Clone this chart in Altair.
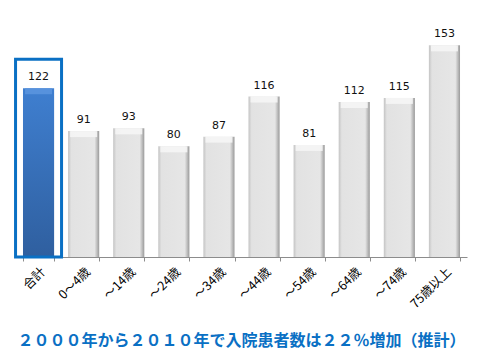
import altair as alt
import pandas as pd

categories = ["合計", "0～4歳", "～14歳", "～24歳", "～34歳", "～44歳", "～54歳", "～64歳", "～74歳", "75歳以上"]
values = [122, 91, 93, 80, 87, 116, 81, 112, 115, 153]
highlight = "合計"
highlight_top = 143
title_text = "２０００年から２０１０年で入院患者数は２２％増加（推計）"

df = pd.DataFrame({"cat": categories, "val": values})
df["hl"] = df["cat"] == highlight

x = alt.X("cat:N", sort=categories, title=None,
          scale=alt.Scale(paddingInner=0.31, paddingOuter=0.155),
          axis=alt.Axis(labelAngle=-45, labelFont="Noto Sans CJK JP", labelFontSize=12.5,
                        labelColor="#000", domainColor="#8c8c8c", tickColor="#8c8c8c",
                        tickSize=4, tickBand="extent", labelPadding=4))
y = alt.Y("val:Q", scale=alt.Scale(domain=[0, 178]), axis=None, title=None)

gray_grad = alt.Gradient(gradient="linear", x1=0, x2=1, y1=0, y2=0,
                         stops=[alt.GradientStop(color="#c4c4c4", offset=0),
                                alt.GradientStop(color="#e2e2e2", offset=0.1),
                                alt.GradientStop(color="#e6e6e6", offset=0.85),
                                alt.GradientStop(color="#9a9a9a", offset=1)])
blue_grad = alt.Gradient(gradient="linear", x1=0, x2=0, y1=0, y2=1,
                         stops=[alt.GradientStop(color="#3f7fd0", offset=0),
                                alt.GradientStop(color="#2f5f9f", offset=1)])

base = alt.Chart(df)

gray = base.transform_filter("!datum.hl").mark_bar(fill=gray_grad).encode(x=x, y=y)
blue = base.transform_filter("datum.hl").mark_bar(fill=blue_grad).encode(x=x, y=y)

cap = base.mark_tick(thickness=6, yOffset=3, size=27, opacity=0.9).encode(
    x=x, y=y,
    color=alt.condition("datum.hl", alt.value("#5a95de"), alt.value("#f5f5f5")))

labels = base.mark_text(dy=-11, font="DejaVu Sans", fontSize=11, color="#111").encode(
    x=x, y=y, text="val:Q")

frame = base.transform_filter("datum.hl").mark_bar(
    fill=None, stroke="#0a70c4", strokeWidth=3, width=46).encode(
    x=x, y=alt.datum(highlight_top), y2=alt.datum(0))

chart = alt.layer(gray, blue, cap, labels, frame).properties(
    width=451, height=249,
    title=alt.TitleParams(title_text, orient="bottom", font="Noto Sans CJK JP",
                          fontSize=16, fontWeight="bold", color="#0a70c4", offset=23),
    autosize=alt.AutoSizeParams(type="none"),
    padding={"left": 8, "top": 0, "right": 10, "bottom": 97},
).configure_view(stroke=None)

chart.save("out.html", embed_options={"renderer": "svg", "actions": False})
